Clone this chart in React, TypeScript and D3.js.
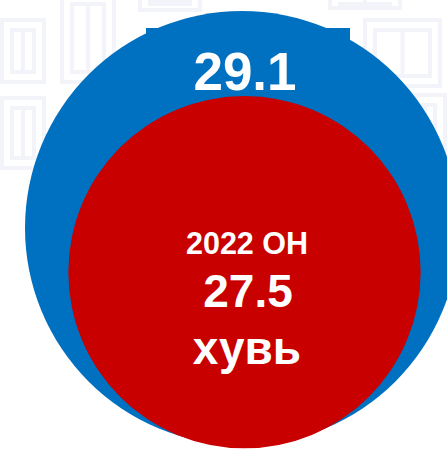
import React from "react";
import * as d3 from "d3";

const seriesLabels = ["Нийт", "2022 ОН"];
const seriesValues = [29.1, 27.5];
const unitLabel = "хувь";
const seriesColors = ["#0070C0", "#C80000"];

const W = 447;
const H = 450;

export default function App() {
  const rScale = d3.scaleLinear().domain([20.6, 29.1]).range([0, 217]);
  const rBlue = rScale(seriesValues[0]);
  const rRed = rScale(seriesValues[1]);
  const blue = { cx: 242, cy: 228 };
  const red = { cx: 244.5, cy: 96 + rRed };
  const fmt = d3.format(".1f");
  const font = "'Liberation Sans', Arial, sans-serif";

  // faint background meander motifs
  const motifs: { x: number; y: number; w: number; h: number }[] = [
    { x: 2, y: 20, w: 42, h: 62 },
    { x: 62, y: -6, w: 52, h: 88 },
    { x: 2, y: 98, w: 42, h: 70 },
    { x: 140, y: -10, w: 60, h: 20 },
    { x: 330, y: -6, w: 70, h: 14 },
    { x: 365, y: 20, w: 75, h: 66 },
    { x: 405, y: 95, w: 40, h: 60 },
  ];

  return (
    <div style={{ position: "fixed", left: 0, top: 0, width: W, height: H, overflow: "hidden" }}>
      <svg width={W} height={H} style={{ display: "block", background: "#ffffff" }}>
        <g stroke="#f3f4f9" strokeWidth={4} fill="none">
          {motifs.map((m, i) => (
            <g key={i}>
              <rect x={m.x} y={m.y} width={m.w} height={m.h} />
              <rect x={m.x + 10} y={m.y + 10} width={Math.max(m.w - 20, 4)} height={Math.max(m.h - 20, 4)} />
              <line x1={m.x + m.w / 2} y1={m.y + 10} x2={m.x + m.w / 2} y2={m.y + m.h - 10} />
            </g>
          ))}
        </g>
        <rect x={146} y={28} width={204} height={60} fill={seriesColors[0]} />
        <circle cx={blue.cx} cy={blue.cy} r={rBlue} fill={seriesColors[0]} />
        <circle cx={red.cx} cy={red.cy} r={rRed} fill={seriesColors[1]} />
        <text x={245} y={90} textAnchor="middle" fill="#fff" fontFamily={font} fontWeight="bold" fontSize={53}>
          {fmt(seriesValues[0])}
        </text>
        <text x={247} y={254} textAnchor="middle" fill="#fff" fontFamily={font} fontWeight="bold" fontSize={30.5}>
          {seriesLabels[1]}
        </text>
        <text x={248} y={307} textAnchor="middle" fill="#fff" fontFamily={font} fontWeight="bold" fontSize={46}>
          {fmt(seriesValues[1])}
        </text>
        <text x={247} y={364} textAnchor="middle" fill="#fff" fontFamily={font} fontWeight="bold" fontSize={46}>
          {unitLabel}
        </text>
      </svg>
    </div>
  );
}
